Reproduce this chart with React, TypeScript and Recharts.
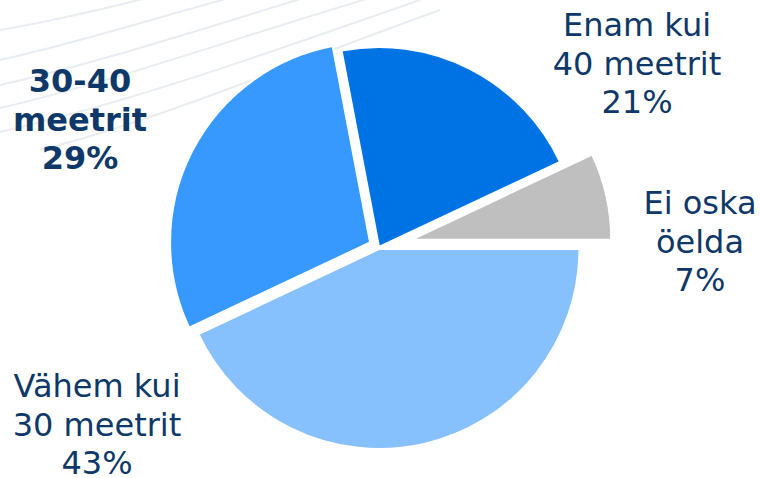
import React from "react";
import { PieChart, Pie, Cell } from "recharts";

const categories = ["Vähem kui 30 meetrit", "30-40 meetrit", "Enam kui 40 meetrit", "Ei oska öelda"];
const shares = [43, 29, 21, 7];
const labelLines = [
  ["Vähem kui", "30 meetrit"],
  ["30-40", "meetrit"],
  ["Enam kui", "40 meetrit"],
  ["Ei oska", "öelda"],
];

const colors = ["#86C1FE", "#3799FE", "#0073E4", "#BFBFBF"];
const explode = [2, 10, 0, 33]; // px the slice is pulled out
const labelPos = [
  { x: 97, y: 397 },
  { x: 80, y: 92 },
  { x: 637, y: 36 },
  { x: 700, y: 214 },
];
const boldLabel = [false, true, false, false];

const data = categories.map((name, i) => ({ name, value: shares[i] }));
const total = shares.reduce((a, b) => a + b, 0);

// offset along the slice's mid angle (clockwise from 3 o'clock)
function explodeOffset(i: number) {
  const before = shares.slice(0, i).reduce((a, b) => a + b, 0);
  const mid = ((before + shares[i] / 2) / total) * Math.PI * 2;
  return { dx: explode[i] * Math.cos(mid), dy: explode[i] * Math.sin(mid) };
}

const renderLabel = (props: any) => {
  const i = props.index;
  const p = labelPos[i];
  return (
    <text
      x={p.x}
      y={p.y}
      textAnchor="middle"
      fill="#0D3868"
      fontSize={32}
      fontWeight={boldLabel[i] ? 700 : 400}
      fontFamily="'DejaVu Sans', Verdana, sans-serif"
    >
      <tspan x={p.x}>{labelLines[i][0]}</tspan>
      <tspan x={p.x} dy={38.5}>{labelLines[i][1]}</tspan>
      <tspan x={p.x} dy={38.5}>{props.value}%</tspan>
    </text>
  );
};

export default function App() {
  return (
    <div style={{ position: "absolute", left: 0, top: 0, width: 760, height: 478, background: "#fff" }}>
      <svg width={760} height={478} style={{ position: "absolute", left: 0, top: 0 }}>
        <g fill="none" stroke="#E9EDF1" strokeWidth={2}>
          <path d="M0,60 C90,40 180,10 260,-10" />
          <path d="M0,85 C110,60 230,20 330,-10" />
          <path d="M0,108 C120,80 260,30 380,-5" />
          <path d="M0,132 C140,100 290,45 420,0" />
          <path d="M0,30 C60,20 120,5 170,-8" />
          <path d="M40,150 C160,120 300,60 440,10" />
        </g>
      </svg>
      <div style={{ position: "absolute", left: 0, top: 0 }}>
        <PieChart width={760} height={478} margin={{ top: 0, right: 0, bottom: 0, left: 0 }}>
          <Pie
            data={data}
            dataKey="value"
            nameKey="name"
            cx={379}
            cy={247}
            outerRadius={200}
            innerRadius={0}
            startAngle={0}
            endAngle={-360}
            stroke="#fff"
            strokeWidth={2}
            label={renderLabel}
            labelLine={false}
            isAnimationActive={false}
          >
            {data.map((d, i) => {
              const o = explodeOffset(i);
              return <Cell key={d.name} fill={colors[i]} transform={`translate(${o.dx},${o.dy})`} />;
            })}
          </Pie>
        </PieChart>
      </div>
    </div>
  );
}
